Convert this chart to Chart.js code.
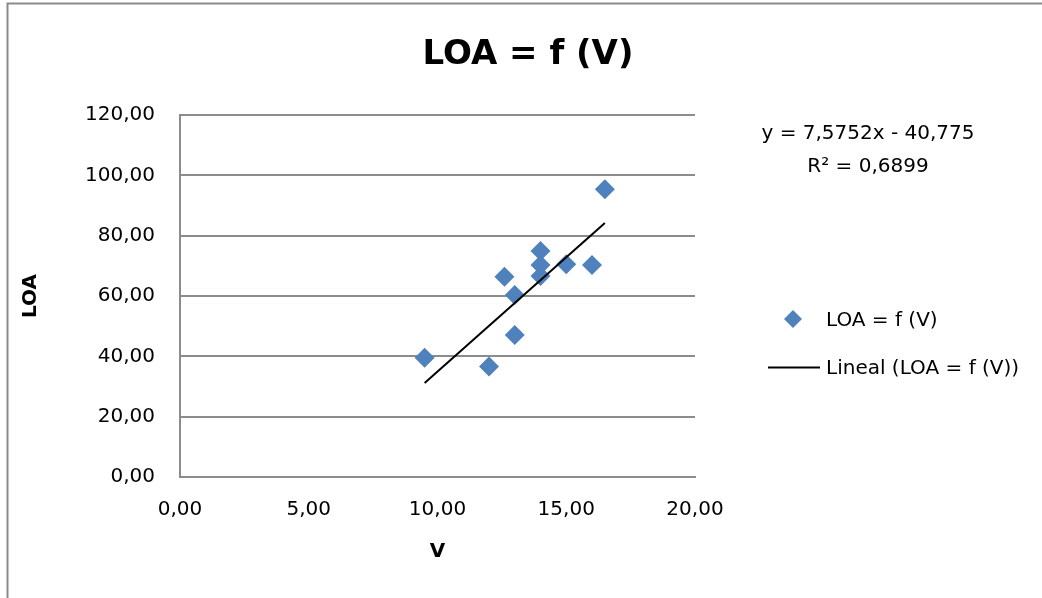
<!DOCTYPE html>
<html>
<head>
<meta charset="utf-8">
<script src="https://cdn.jsdelivr.net/npm/chart.js@4"></script>
<style>
  html, body { margin: 0; padding: 0; background: #fff; }
  canvas { display: block; }
</style>
</head>
<body>
<canvas id="loaChart" width="1042" height="598"></canvas>
<script>
// data
const vValues   = [9.5, 12.0, 12.6, 13.0, 13.0, 14.0, 14.0, 14.0, 15.0, 16.0, 16.5];
const loaValues = [39.5, 36.6, 66.4, 60.3, 47.1, 74.9, 70.3, 66.6, 70.5, 70.3, 95.4];
const trendX    = [9.5, 16.5];
const trendY    = [31.19, 84.22];
const xTicks    = [0, 5, 10, 15, 20];
const yTicks    = [0, 20, 40, 60, 80, 100, 120];
const equationLines = ['y = 7,5752x - 40,775', 'R\u00b2 = 0,6899'];

const seriesLabel = 'LOA = f (V)';
const trendLabel  = 'Lineal (LOA = f (V))';
const FONT = "'DejaVu Sans'";

const fmt = v => Number(v).toFixed(2).replace('.', ',');

const framePlugin = {
    id: 'frame',
    beforeDraw(chart) {
        const c = chart.ctx;
        c.save();
        c.fillStyle = '#fff';
        c.fillRect(0, 0, chart.width, chart.height);
        c.strokeStyle = '#8a8a8a';
        c.lineWidth = 2;
        c.beginPath();
        c.moveTo(7.5, chart.height);
        c.lineTo(7.5, 3.5);
        c.lineTo(chart.width, 3.5);
        c.stroke();
        c.restore();
    },
    afterDraw(chart) {
        const c = chart.ctx;
        c.save();
        c.fillStyle = '#000';
        c.textBaseline = 'alphabetic';

        // chart title
        c.font = 'bold 34px ' + FONT;
        c.textAlign = 'center';
        c.fillText(seriesLabel, 528, 64);

        // trendline equation
        c.font = '20px ' + FONT;
        c.fillText(equationLines[0], 868, 139);
        c.fillText(equationLines[1], 868, 172);

        // legend
        const pts = chart.data.datasets[0];
        const tr = chart.data.datasets[1];
        c.fillStyle = pts.backgroundColor;
        c.beginPath();
        c.moveTo(793, 310);
        c.lineTo(802, 319);
        c.lineTo(793, 328);
        c.lineTo(784, 319);
        c.closePath();
        c.fill();

        c.strokeStyle = tr.borderColor;
        c.lineWidth = 1.8;
        c.beginPath();
        c.moveTo(768, 367.5);
        c.lineTo(820, 367.5);
        c.stroke();

        c.fillStyle = '#000';
        c.textAlign = 'left';
        c.fillText(pts.label, 826, 326);
        c.fillText(tr.label, 826, 374);
        c.restore();
    }
};

const ctx = document.getElementById('loaChart').getContext('2d');

new Chart(ctx, {
    type: 'scatter',
    data: {
        datasets: [{
            label: seriesLabel,
            data: vValues.map((v, i) => ({ x: v, y: loaValues[i] })),
            backgroundColor: '#4F81BD',
            borderColor: '#4F81BD',
            borderWidth: 0,
            pointStyle: 'rectRot',
            pointRadius: 10,
            pointHoverRadius: 10,
            order: 2
        }, {
            label: trendLabel,
            type: 'line',
            data: trendX.map((v, i) => ({ x: v, y: trendY[i] })),
            borderColor: '#000',
            borderWidth: 2,
            pointRadius: 0,
            fill: false,
            order: 1
        }]
    },
    options: {
        responsive: false,
        animation: false,
        events: [],
        layout: { padding: { left: 0, top: 115, right: 347, bottom: 0 } },
        plugins: {
            legend: { display: false },
            title: { display: false },
            tooltip: { enabled: false }
        },
        scales: {
            x: {
                type: 'linear',
                min: 0,
                max: 20,
                afterFit(scale) { scale.height = 121; },
                afterBuildTicks(scale) { scale.ticks = xTicks.map(v => ({ value: v })); },
                grid: { display: false, drawTicks: false },
                border: { display: true, color: '#8c8c8c', width: 2 },
                ticks: {
                    color: '#000',
                    padding: 21,
                    maxRotation: 0,
                    font: { family: FONT, size: 20 },
                    callback: v => fmt(v)
                },
                title: {
                    display: true,
                    text: 'V',
                    color: '#000',
                    font: { family: FONT, size: 20, weight: 'bold' },
                    padding: { top: 0, bottom: 34 }
                }
            },
            y: {
                min: 0,
                max: 120,
                afterFit(scale) { scale.width = 180; },
                afterBuildTicks(scale) { scale.ticks = yTicks.map(v => ({ value: v })); },
                grid: { color: '#8c8c8c', lineWidth: 2, drawTicks: false },
                border: { display: true, color: '#8c8c8c', width: 2 },
                ticks: {
                    color: '#000',
                    padding: 25,
                    font: { family: FONT, size: 20 },
                    callback: v => fmt(v)
                },
                title: {
                    display: true,
                    text: 'LOA',
                    color: '#000',
                    font: { family: FONT, size: 20, weight: 'bold' },
                    padding: { top: 19, bottom: 0 }
                }
            }
        }
    },
    plugins: [framePlugin]
});
</script>
</body>
</html>
